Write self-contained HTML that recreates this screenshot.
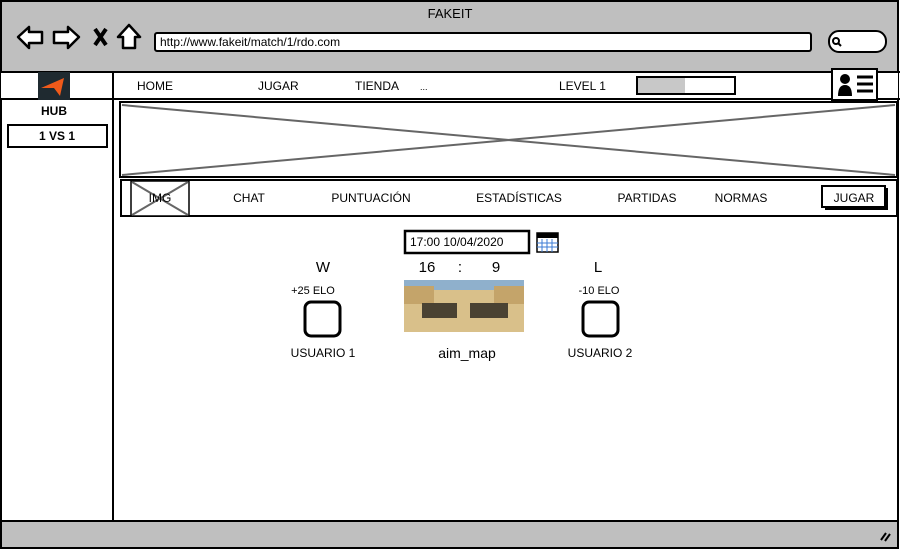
<!DOCTYPE html>
<html><head><meta charset="utf-8"><style>
body{margin:0;background:#fff}
svg text{font-family:"Liberation Sans",sans-serif;fill:#000}
</style></head><body>
<svg width="900" height="550" viewBox="0 0 900 550" xmlns="http://www.w3.org/2000/svg">
<rect x="1" y="1" width="897" height="547" fill="#fff" stroke="#000" stroke-width="2"/>
<rect x="1" y="1" width="897" height="71" fill="#bfbfbf" stroke="#000" stroke-width="2"/>
<text x="450" y="18" font-size="13" text-anchor="middle">FAKEIT</text>
<!-- nav icons -->
<path d="M18 37 L29 27 L29 32 L42 32 L42 43 L29 43 L29 48 Z" fill="#fff" stroke="#000" stroke-width="2.5" stroke-linejoin="round"/>
<path d="M79 37 L68 27 L68 32 L54 32 L54 43 L68 43 L68 48 Z" fill="#fff" stroke="#000" stroke-width="2.5" stroke-linejoin="round"/>
<path d="M95 29 L106 45 M106 29 L95 45" stroke="#000" stroke-width="4"/>
<path d="M129 25 L140 37 L135 37 L135 48 L123 48 L123 37 L118 37 Z" fill="#fff" stroke="#000" stroke-width="2.5" stroke-linejoin="round"/>
<rect x="155" y="33" width="656" height="18" rx="2" fill="#fff" stroke="#000" stroke-width="2"/>
<text x="160" y="46" font-size="12">http://www.fakeit/match/1/rdo.com</text>
<rect x="829" y="31" width="57" height="21" rx="10" fill="#fff" stroke="#000" stroke-width="2"/>
<circle cx="836" cy="41" r="3" fill="none" stroke="#000" stroke-width="2"/><path d="M838 43 L841 46" stroke="#000" stroke-width="2"/>
<!-- nav bar -->
<rect x="1" y="72" width="897" height="27" fill="#fff"/>
<line x1="0" y1="99" x2="900" y2="99" stroke="#000" stroke-width="2"/>
<line x1="0" y1="72" x2="900" y2="72" stroke="#000" stroke-width="2"/>
<rect x="38" y="72" width="32" height="28" fill="#1f2a30"/>
<path d="M41 88 L64 78 L60 96 L54 88 Z" fill="#f05a1a"/>
<line x1="113" y1="72" x2="113" y2="521" stroke="#000" stroke-width="2"/>
<text x="137" y="90" font-size="12">HOME</text>
<text x="258" y="90" font-size="12">JUGAR</text>
<text x="355" y="90" font-size="12">TIENDA</text>
<text x="420" y="90" font-size="9">...</text>
<text x="559" y="90" font-size="12">LEVEL 1</text>
<rect x="637" y="77" width="98" height="17" fill="#fff" stroke="#000" stroke-width="2"/>
<rect x="638" y="78" width="47" height="15" fill="#c8c8c8"/>
<rect x="832" y="69" width="45" height="31" fill="#fff" stroke="#000" stroke-width="2"/>
<circle cx="845" cy="79" r="5" fill="#000"/><path d="M838 96 Q838 85 845 85 Q852 85 852 96 Z" fill="#000"/>
<path d="M857 77 H873 M857 84 H873 M857 91 H873" stroke="#000" stroke-width="3"/>
<!-- sidebar -->
<text x="54" y="115" font-size="12" font-weight="bold" text-anchor="middle">HUB</text>
<rect x="8" y="125" width="99" height="22" fill="#fff" stroke="#000" stroke-width="2"/>
<text x="57" y="140" font-size="12" font-weight="bold" text-anchor="middle">1 VS 1</text>
<!-- banner -->
<rect x="120" y="102" width="777" height="75" fill="#fff" stroke="#000" stroke-width="2"/>
<path d="M122 105 L895 175 M122 175 L895 105" stroke="#666" stroke-width="2"/>
<!-- tabs -->
<rect x="121" y="180" width="776" height="36" fill="#fff" stroke="#000" stroke-width="2"/>
<rect x="131" y="181" width="58" height="35" fill="#fff" stroke="#000" stroke-width="1.5"/>
<path d="M132 182 L188 215 M132 215 L188 182" stroke="#666" stroke-width="2"/>
<text x="160" y="202" font-size="12" text-anchor="middle">IMG</text>
<g font-size="12" text-anchor="middle">
<text x="249" y="202">CHAT</text><text x="371" y="202">PUNTUACIÓN</text><text x="519" y="202">ESTADÍSTICAS</text><text x="647" y="202">PARTIDAS</text><text x="741" y="202">NORMAS</text>
</g>
<rect x="825" y="188" width="63" height="22" fill="#000"/>
<rect x="822" y="186" width="63" height="21" fill="#fff" stroke="#000" stroke-width="2"/>
<text x="854" y="202" font-size="12" text-anchor="middle">JUGAR</text>
<!-- match -->
<rect x="405" y="231" width="124" height="22" fill="#fff" stroke="#000" stroke-width="2.5"/>
<text x="410" y="246" font-size="12">17:00 10/04/2020</text>
<rect x="537" y="233" width="21" height="19" fill="#fff" stroke="#000" stroke-width="1.5"/>
<rect x="537" y="233" width="21" height="5" fill="#000"/>
<path d="M542 239 V252 M547 239 V252 M552 239 V252 M537 243 H558 M537 247 H558" stroke="#3b7bd4" stroke-width="1"/>
<text x="323" y="272" font-size="15" text-anchor="middle">W</text>
<text x="427" y="272" font-size="15" text-anchor="middle">16</text>
<text x="460" y="272" font-size="15" text-anchor="middle">:</text>
<text x="496" y="272" font-size="15" text-anchor="middle">9</text>
<text x="598" y="272" font-size="15" text-anchor="middle">L</text>
<text x="313" y="294" font-size="11" text-anchor="middle">+25 ELO</text>
<text x="599" y="294" font-size="11" text-anchor="middle">-10 ELO</text>
<rect x="305" y="302" width="35" height="34" rx="6" fill="#fff" stroke="#000" stroke-width="3"/>
<rect x="583" y="302" width="35" height="34" rx="6" fill="#fff" stroke="#000" stroke-width="3"/>
<rect x="404" y="280" width="120" height="52" fill="#d9c08a"/>
<rect x="404" y="280" width="120" height="10" fill="#8fb0cc"/>
<rect x="404" y="286" width="30" height="18" fill="#c4a46a"/><rect x="494" y="286" width="30" height="18" fill="#c4a46a"/>
<rect x="422" y="303" width="35" height="15" fill="#4a4232"/><rect x="470" y="303" width="38" height="15" fill="#4a4232"/>
<text x="323" y="357" font-size="12" text-anchor="middle">USUARIO 1</text>
<text x="467" y="358" font-size="14" text-anchor="middle">aim_map</text>
<text x="600" y="357" font-size="12" text-anchor="middle">USUARIO 2</text>
<!-- bottom bar -->
<rect x="1" y="521" width="897" height="27" fill="#bfbfbf" stroke="#000" stroke-width="2"/>
<path d="M881 540 L886 533 M885 541 L890 534" stroke="#000" stroke-width="2"/>
</svg>
</body></html>
